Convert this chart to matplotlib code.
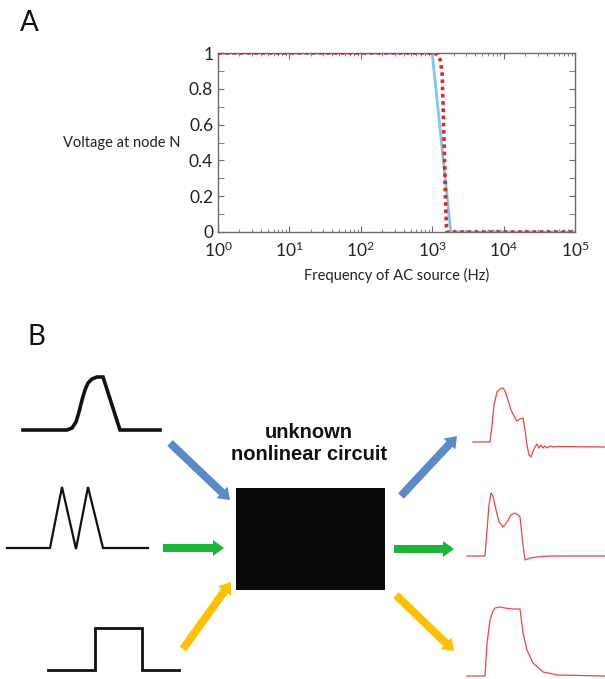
import numpy as np
import matplotlib
matplotlib.use("Agg")
import matplotlib.pyplot as plt
from matplotlib.patches import FancyArrow, Rectangle
from matplotlib.ticker import LogLocator, FixedLocator, NullFormatter

plt.rcParams['font.family'] = ['Lato', 'DejaVu Sans']
plt.rcParams['mathtext.default'] = 'regular'

# ---------------- Panel A data ----------------
blue_freq = [1, 1000, 1820, 1e5]
blue_volt = [1, 1, 0, 0]
red_freq = [1, 1050, 1200, 1300, 1380, 1430, 1480, 1530, 1570, 1600, 1e5]
red_volt = [1, 1, 0.99, 0.96, 0.88, 0.66, 0.44, 0.22, 0.06, 0, 0]
y_ticks = [0, 0.2, 0.4, 0.6, 0.8, 1]
y_ticklabels = ["0", "0.2", "0.4", "0.6", "0.8", "1"]

# ---------------- Panel B data (diagram, pixel space) ----------------
in1_x = [23, 67, 72, 76, 79, 82, 85, 88, 92, 97, 103, 120, 160]
in1_y = [430, 430, 428, 422, 412, 400, 390, 383, 379, 377, 377, 430, 430]
in2_x = [7, 50, 62, 76, 88, 103, 148]
in2_y = [548, 548, 487, 549, 487, 548, 548]
in3_x = [48, 95, 95, 142, 142, 179]
in3_y = [670, 670, 628, 628, 670, 670]

out1_x = [473, 490, 492, 494, 497, 500, 503, 505, 508, 511, 514, 517, 520, 523, 525,
          527, 529, 531, 533, 535, 537, 539, 541, 543, 545, 547, 550, 553, 556, 605]
out1_y = [442, 442, 425, 405, 392, 389, 388, 391, 400, 410, 416, 421, 419, 418, 430,
          445, 455, 457, 451, 447, 444, 448, 445, 448, 446, 448, 446, 447, 446.5, 447]
out2_x = [467, 485, 487, 489, 491, 493, 496, 499, 503, 507, 511, 515, 518, 520, 523, 525,
          530, 537, 550, 605]
out2_y = [556, 556, 530, 505, 493, 496, 510, 522, 527, 522, 515, 513, 515, 517, 545, 560,
          558, 557, 556, 556]
out3_x = [467, 485, 487, 490, 493, 495, 500, 505, 512, 520, 523, 527, 533, 543, 557, 605]
out3_y = [676, 676, 643, 620, 611, 608, 607, 608, 609, 609, 633, 650, 663, 672, 675, 676]

arrows = [  # (x0, y0, x1, y1, colour)
    (170, 443, 230, 500, "#5B8AC6"),
    (163, 548, 224, 548, "#1DB535"),
    (183, 649, 231, 582, "#FFC000"),
    (401, 496, 457, 436, "#5B8AC6"),
    (394, 549, 454, 549, "#1DB535"),
    (396, 595, 454, 651, "#FFC000"),
]
box = (236, 488, 149, 102)
box_text = "unknown\nnonlinear circuit"

fig = plt.figure(figsize=(6.05, 6.79), dpi=100)

# Panel B axes in pixel coordinates
axb = fig.add_axes([0, 0, 1, 1])
axb.set_xlim(0, 605)
axb.set_ylim(679, 0)
axb.axis("off")

axb.plot(in1_x, in1_y, color="#111111", lw=2.6, solid_joinstyle="miter")
axb.plot(in2_x, in2_y, color="#111111", lw=1.6, solid_joinstyle="miter")
axb.plot(in3_x, in3_y, color="#111111", lw=2.0, solid_joinstyle="miter")
for xs, ys in [(out1_x, out1_y), (out2_x, out2_y), (out3_x, out3_y)]:
    axb.plot(xs, ys, color="#EE4444", lw=0.9)

for x0, y0, x1, y1, c in arrows:
    axb.add_patch(FancyArrow(x0, y0, x1 - x0, y1 - y0, width=8, head_width=16,
                             head_length=11, length_includes_head=True,
                             color=c, lw=0))

bx, by, bw, bh = box
axb.add_patch(Rectangle((bx, by), bw, bh, color="#0A0A0A", lw=0))
axb.text(309, 444, box_text, ha="center", va="center", fontsize=14.5,
         fontweight="bold", family=["Liberation Sans", "DejaVu Sans"],
         linespacing=1.2, color="#111111")

fig.text(0.033, 0.985, "A", fontsize=20, va="top", ha="left", color="#111111")
fig.text(0.045, 0.523, "B", fontsize=20, va="top", ha="left", color="#111111")

# Panel A
ax = fig.add_axes([218 / 605, 1 - 232 / 679, (575 - 218) / 605, (232 - 53) / 679])
ax.plot(blue_freq, blue_volt, color="#7EC8E8", lw=2.0, zorder=2)
ax.plot(red_freq, red_volt, color="#E02828", lw=2.6, ls=(0, (1, 1)), zorder=3)
ax.set_xscale("log")
ax.set_xlim(1, 1e5)
ax.set_ylim(0, 1)
ax.set_yticks(y_ticks)
ax.set_yticklabels(y_ticklabels)
ax.yaxis.set_minor_locator(FixedLocator([0.1, 0.3, 0.5, 0.7, 0.9]))
ax.xaxis.set_major_locator(LogLocator(base=10, numticks=10))
ax.xaxis.set_minor_locator(LogLocator(base=10, subs=np.arange(2, 10), numticks=10))
ax.xaxis.set_minor_formatter(NullFormatter())
for s in ax.spines.values():
    s.set_color("#6a6a6a")
    s.set_linewidth(1.0)
ax.tick_params(which="both", direction="in", top=True, right=True, color="#6a6a6a",
               labelsize=12.5, labelcolor="#222222")
ax.tick_params(which="major", length=4)
ax.tick_params(which="minor", length=2.5)
ax.tick_params(axis="y", which="minor", length=4)
ax.tick_params(axis="x", pad=6)
ax.set_xlabel("Frequency of AC source (Hz)", fontsize=10.5, color="#222222", labelpad=6)
ax.set_ylabel("Voltage at node N", fontsize=10.5, color="#222222", rotation=0,
              ha="right", va="center", labelpad=14)
ax.yaxis.set_label_coords(-0.105, 0.5)

fig.savefig("out.png", dpi=100)
